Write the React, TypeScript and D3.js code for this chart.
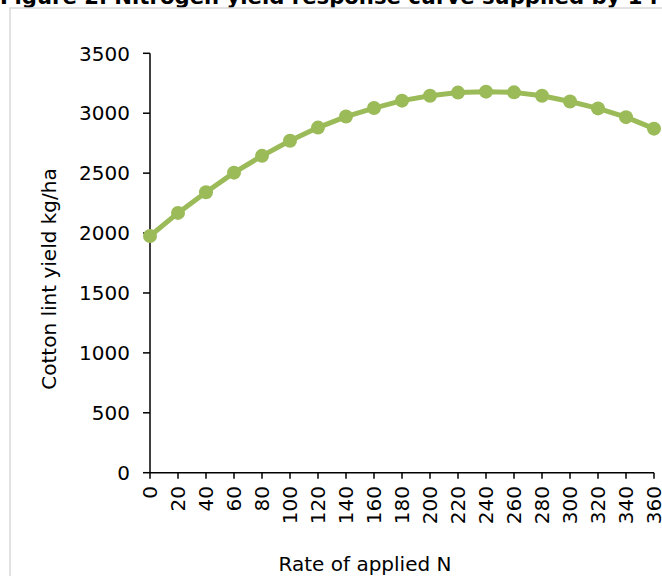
import React from "react";
import * as d3 from "d3";

const rates = [0, 20, 40, 60, 80, 100, 120, 140, 160, 180, 200, 220, 240, 260, 280, 300, 320, 340, 360];
const yields = [1975, 2168, 2341, 2504, 2644, 2770, 2880, 2972, 3043, 3105, 3146, 3172, 3180, 3174, 3146, 3098, 3040, 2967, 2871];
const yTicks = [0, 500, 1000, 1500, 2000, 2500, 3000, 3500];
const titleText = "Figure 2. Nitrogen yield response curve supplied by 1 r";
const yTitle = "Cotton lint yield kg/ha";
const xTitle = "Rate of applied N";

export default function App() {
  const W = 662, H = 576;
  const x = d3.scalePoint<number>().domain(rates).range([150, 654]);
  const y = d3.scaleLinear().domain([0, 3500]).range([472.7, 53.3]);
  const line = d3.line<number>().x((_, i) => x(rates[i])!).y((d) => y(d));
  const color = "#9bbb59";
  const font = "'DejaVu Sans', Verdana, sans-serif";
  return (
    <svg width={W} height={H} style={{ position: "absolute", left: 0, top: 0 }} fontFamily={font}>
      <rect x={0} y={0} width={W} height={H} fill="#fff" />
      <text x={0} y={4} fontSize={21.2} fontWeight="bold" fill="#000">{titleText}</text>
      <rect x={10} y={8} width={W + 20} height={H + 20} fill="none" stroke="#d9d9d9" strokeWidth={1.5} />
      {/* y axis */}
      <line x1={150} x2={150} y1={y(3500)} y2={y(0)} stroke="#000" strokeWidth={1.5} />
      {yTicks.map((t) => (
        <g key={t}>
          <line x1={143} x2={150} y1={y(t)} y2={y(t)} stroke="#000" strokeWidth={1.5} />
          <text x={130} y={y(t)} dy="0.36em" textAnchor="end" fontSize={20} fill="#000">{t}</text>
        </g>
      ))}
      {/* x axis */}
      <line x1={150} x2={654} y1={y(0)} y2={y(0)} stroke="#000" strokeWidth={1.5} />
      {rates.map((r) => (
        <g key={r}>
          <line x1={x(r)} x2={x(r)} y1={y(0)} y2={y(0) + 6} stroke="#000" strokeWidth={1.5} />
          <text transform={`translate(${x(r)! + 7},486) rotate(-90)`} textAnchor="end" fontSize={20} fill="#000">{r}</text>
        </g>
      ))}
      <text transform={`translate(56,279) rotate(-90)`} textAnchor="middle" fontSize={20} fill="#000">{yTitle}</text>
      <text x={365} y={571} textAnchor="middle" fontSize={20} fill="#000">{xTitle}</text>
      <path d={line(yields) || ""} fill="none" stroke={color} strokeWidth={5} strokeLinejoin="round" />
      {yields.map((v, i) => (
        <circle key={i} cx={x(rates[i])} cy={y(v)} r={7} fill={color} />
      ))}
    </svg>
  );
}
